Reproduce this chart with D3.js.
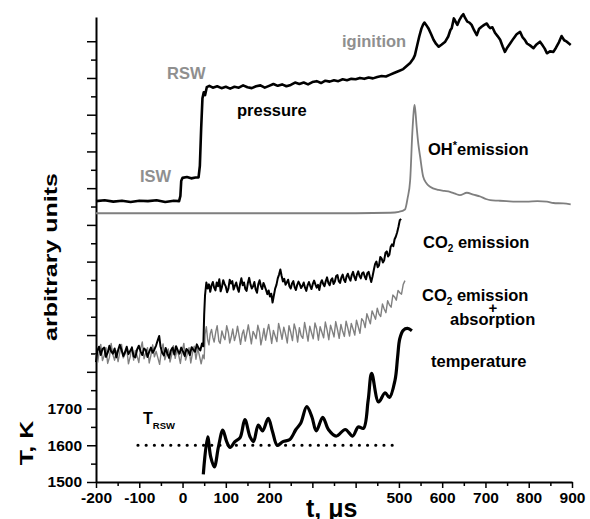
<!DOCTYPE html>
<html>
<head>
<meta charset="utf-8">
<script src="https://cdn.jsdelivr.net/npm/d3@7"></script>
<style>
body { margin: 0; background: #fff; }
svg text { font-family: "Liberation Sans", Arial, sans-serif; font-weight: bold; }
</style>
</head>
<body>
<svg id="chart" width="590" height="519"></svg>
<script>
// time axis ticks (us)
var xMajorTicks = [-200, -100, 0, 100, 200, 300, 400, 500, 600, 700, 800, 900];
var xMinorTicks = [-150, -50, 50, 150, 250, 350, 450, 550, 650, 750, 850];
var xTickLabels = [-200, -100, 0, 100, 200, 500, 600, 700, 800, 900];

// temperature axis ticks (K)
var yMajorTicks = [1500, 1600, 1700, 1800, 1900, 2000, 2100, 2200, 2300, 2400, 2500, 2600, 2700];
var yMinorTicks = [1550, 1650, 1750, 1850, 1950, 2050, 2150, 2250, 2350, 2450, 2550, 2650];
var yTickLabels = [1500, 1600, 1700];

// pressure, arbitrary units
var pressure = [[-200, 60.4], [-180, 60.6], [-160, 60.3], [-140, 60.5], [-120, 60.2], [-100, 60.5], [-80, 60.4],
  [-60, 60.6], [-40, 60.2], [-20, 60.5], [-8, 60.4], [-5, 61.5], [-3, 64.8], [0, 65.4], [10, 65.6], [20, 65.3],
  [30, 65.5], [37, 65.5], [40, 68], [43, 76], [46, 82.5], [49, 83.8], [52, 83.2], [56, 84.9], [62, 85.2], [70, 84.8],
  [80, 85.1], [90, 84.7], [100, 85], [110, 84.6], [120, 85], [130, 84.8], [140, 85.3], [150, 84.9], [160, 84.7],
  [170, 85.1], [180, 85.3], [190, 84.8], [200, 85.2], [210, 85.6], [220, 85.2], [230, 85.5], [240, 85.1], [250, 85.4],
  [260, 85.9], [270, 85.6], [280, 85.9], [290, 85.5], [300, 86], [310, 86.2], [320, 85.8], [330, 86.3], [340, 86.1],
  [350, 86.4], [360, 86.2], [370, 86.6], [380, 86.4], [390, 86.7], [400, 86.6], [410, 86.9], [420, 86.7], [430, 87],
  [440, 86.8], [450, 87.1], [460, 87.3], [470, 87.2], [480, 87.6], [490, 88], [500, 88.4], [510, 88.8], [520, 89.6],
  [526, 90.1], [533, 91], [537, 91.8], [542, 93.8], [547, 95.8], [552, 97.5], [556, 98.4], [559, 98.8], [563, 98.3],
  [568, 97.6], [574, 96.4], [580, 95.1], [586, 94.2], [592, 93.6], [599, 94.1], [607, 94.7], [614, 95.8], [619, 97.2],
  [622, 97.6], [627, 99.7], [631, 99], [635, 98.3], [640, 99.4], [645, 100.2], [649, 100.6], [653, 99.8], [658, 99],
  [663, 98.8], [668, 98.3], [674, 97.1], [680, 96.1], [685, 97.4], [691, 97.9], [697, 98.3], [703, 98.6], [707, 98],
  [711, 97.6], [716, 97.8], [722, 96.6], [728, 95.9], [734, 95.1], [740, 93.6], [745, 92.5], [751, 93.5], [757, 94.3],
  [765, 95.4], [772, 96.3], [780, 96.8], [786, 95.6], [791, 95.1], [796, 94.3], [803, 93.9], [811, 93.3], [818, 94.1],
  [826, 94.7], [832, 93.9], [837, 93.2], [842, 92.2], [849, 92.6], [857, 92.5], [863, 93.4], [870, 94.6], [876, 95.9],
  [882, 95], [888, 94.7], [893, 94.3], [897, 94]];

// OH* emission, arbitrary units
var ohEmission = [[-200, 57.8], [400, 57.8], [480, 57.9], [500, 58.1], [514, 58.6], [520, 61], [526, 64.9],
  [531, 75.1], [534, 79.5], [536, 81.1], [538, 79.8], [541, 76.4], [545, 72.6], [549, 70], [556, 65.7], [564, 64.2],
  [572, 63.5], [591, 62.8], [605, 62.6], [618, 62.4], [630, 62], [641, 61.7], [657, 62.2], [672, 61.8], [688, 61.4],
  [700, 60.9], [711, 60.6], [730, 60.5], [749, 60.4], [770, 60.3], [795, 60.3], [820, 60.4], [842, 60.3], [857, 60],
  [880, 59.9], [897, 59.7]];

// CO2 emission, arbitrary units
var co2Emission = [[-200, 25.8], [-197, 28.2], [-193, 29.1], [-189, 27.3], [-185, 28.6], [-181, 28.9], [-177, 26.9],
  [-173, 27.8], [-169, 29.3], [-165, 28.1], [-161, 27.6], [-157, 28.7], [-153, 26.8], [-149, 28.3], [-145, 29.5],
  [-141, 28.4], [-137, 27.1], [-133, 27.9], [-129, 29.1], [-125, 27.5], [-121, 28.2], [-117, 28.9], [-113, 27],
  [-109, 26.8], [-105, 28.5], [-101, 29.3], [-97, 28.1], [-93, 27.3], [-89, 28.7], [-85, 28.4], [-81, 26.9],
  [-77, 28], [-73, 28.9], [-69, 27.8], [-65, 28.5], [-61, 29.4], [-57, 30.6], [-54, 31.4], [-51, 29.2], [-47, 27.8],
  [-43, 27.2], [-39, 28.8], [-35, 27.6], [-31, 26.7], [-27, 28.3], [-23, 28.9], [-19, 27.4], [-15, 29.2], [-11, 28.3],
  [-7, 27.6], [-3, 28.9], [1, 28.1], [5, 27.1], [9, 28.6], [13, 28.2], [17, 27.3], [21, 29], [25, 28.4], [29, 28],
  [33, 29.6], [37, 28.8], [41, 28.3], [45, 29.8], [48, 29.2],
  [50, 36], [52, 40.2], [55, 42.9], [58, 41.6], [61, 42.5], [64, 40.9], [67, 42.3], [70, 43], [73, 41.8], [76, 41.2],
  [79, 42.9], [82, 42.1], [85, 43.6], [88, 41], [91, 41.9], [94, 43.4], [97, 42.6], [100, 42], [103, 40.8],
  [106, 41.6], [109, 43.5], [112, 42.7], [115, 43.2], [118, 41.4], [121, 42.2], [124, 42.9], [127, 41.7], [130, 40.9],
  [133, 42.6], [136, 43.8], [139, 42.3], [142, 42.9], [145, 41.5], [148, 41.1], [151, 42.8], [154, 43.9], [157, 42.5],
  [160, 41.6], [163, 42.1], [166, 43], [169, 41.4], [172, 40.7], [175, 42.5], [178, 43.4], [181, 42.2], [184, 41.5],
  [187, 42.8], [190, 42.1], [193, 41.3], [196, 40.4], [199, 41.2], [202, 39.9], [205, 40.5], [208, 38.6], [211, 40.1],
  [214, 41.6], [217, 42.4], [220, 43.8], [223, 44.6], [226, 45.7], [229, 44.3], [232, 43.1], [235, 43.7], [238, 42.4],
  [241, 42.9], [244, 43.5], [247, 42.1], [250, 41.6], [253, 42.7], [256, 43.2], [259, 41.9], [262, 41.3], [265, 42.4],
  [268, 43.1], [271, 42.5], [274, 41.7], [277, 42.2], [280, 42.9], [283, 41.8], [286, 41.1], [289, 42.3], [292, 43],
  [295, 42.2], [298, 41.5], [301, 42.6], [304, 43.3], [307, 42.5], [310, 41.8], [313, 42.4], [316, 41.3], [319, 42.7],
  [322, 43.4], [325, 42.6], [328, 42.1], [331, 43.2], [334, 44], [337, 42.8], [340, 42.3], [343, 43.4], [346, 43.8],
  [349, 42.6], [352, 43.1], [355, 44.3], [358, 44.5], [361, 43.2], [364, 42.8], [367, 44], [370, 44.6], [373, 43.5],
  [376, 43], [379, 44.2], [382, 44.8], [385, 43.9], [388, 43.3], [391, 44.5], [394, 45.2], [397, 44.1], [400, 43.4],
  [403, 44.6], [406, 45.3], [409, 44.3], [412, 43.8], [415, 44.9], [418, 45.1], [421, 44.2], [424, 43.6], [427, 44.9],
  [430, 45.2], [433, 44.1], [436, 43], [439, 44.2], [442, 45.6], [445, 46.9], [448, 47.4], [451, 46.2], [454, 46.6],
  [457, 48.4], [460, 48.1], [463, 47.2], [466, 47.7], [469, 49.3], [472, 49.6], [475, 48.5], [478, 48.9], [481, 50.6],
  [484, 51.1], [487, 50.7], [490, 52.2], [493, 52.8], [496, 53.7], [499, 54.9], [502, 56.3], [505, 56.6]];

// CO2 emission + absorption, arbitrary units
var co2Absorption = [[-200, 27.5], [-196, 25.8], [-192, 28.4], [-189, 29.6], [-185, 26.1], [-181, 27.2], [-177, 28.9],
  [-173, 25.5], [-169, 26.8], [-165, 29.8], [-161, 27.4], [-157, 26.2], [-153, 28.2], [-149, 25.9], [-145, 27.9],
  [-141, 29.6], [-137, 26.7], [-133, 27.5], [-129, 28.8], [-125, 25.4], [-121, 26.9], [-117, 29.1], [-113, 26.2],
  [-109, 28.3], [-105, 27.1], [-101, 25.7], [-97, 28.6], [-93, 30.1], [-89, 26.5], [-85, 27.8], [-81, 28.9],
  [-77, 25.6], [-73, 27.3], [-69, 29.5], [-65, 26.9], [-61, 28.1], [-57, 26.7], [-53, 25.3], [-49, 28.2], [-45, 29.7],
  [-41, 26.3], [-37, 27.6], [-33, 28.6], [-29, 25.8], [-25, 27.4], [-21, 29.3], [-17, 26.6], [-13, 28.4], [-9, 27.3],
  [-5, 25.5], [-1, 28.1], [3, 29.8], [7, 26.2], [11, 27.5], [15, 28.9], [19, 25.6], [23, 27.7], [27, 29.2], [31, 26.4],
  [35, 28.7], [39, 27.2], [43, 25.4], [47, 27.3], [50, 26.5], [52, 31.8], [55, 33.4], [58, 30.6], [61, 29.5],
  [64, 31.9], [67, 32.8], [70, 31.1], [73, 30.1], [77, 32.4], [80, 33.6], [84, 30.3], [87, 29.8], [91, 32.5],
  [95, 31.2], [98, 30.6], [102, 33.6], [106, 32.1], [109, 29.9], [113, 31.4], [116, 32.9], [120, 30.4], [124, 31.8],
  [127, 33.5], [131, 31.3], [134, 29.6], [138, 31.9], [141, 32.7], [145, 30.3], [149, 32.3], [152, 33.8], [156, 31.5],
  [159, 29.7], [163, 32.4], [167, 31.6], [170, 30.8], [174, 33.7], [178, 32.2], [181, 29.5], [185, 31.3], [188, 33],
  [192, 30.5], [196, 32.6], [199, 33.9], [203, 31.7], [206, 29.8], [210, 32.6], [214, 31.4], [218, 30.2], [222, 34.1],
  [226, 32.5], [230, 30.7], [234, 33.3], [238, 31.8], [242, 29.9], [246, 33.6], [250, 32.2], [254, 30.4], [258, 34],
  [262, 32.6], [266, 30.1], [270, 33.2], [274, 31.5], [278, 30.9], [282, 34.3], [286, 32.4], [290, 30.3], [294, 33.5],
  [298, 32.1], [302, 30.8], [306, 34.2], [310, 32.9], [314, 30.5], [318, 33.4], [322, 32.2], [326, 31], [330, 34.4],
  [334, 32.7], [338, 30.6], [342, 33.7], [346, 32.5], [350, 31.2], [354, 34.5], [358, 32.8], [362, 30.9], [366, 33.9],
  [370, 32.4], [374, 31.3], [378, 34.6], [382, 33.1], [386, 31.4], [390, 34.1], [394, 32.9], [398, 31.6], [402, 34.8],
  [406, 33.4], [410, 32], [414, 35.1], [418, 34.6], [422, 33.2], [426, 36.2], [430, 35.1], [434, 34], [438, 36.8],
  [442, 35.9], [446, 35], [450, 37.4], [454, 36.1], [458, 35.6], [462, 38.3], [466, 37.2], [470, 36.4], [474, 39],
  [478, 38.1], [482, 37.6], [486, 40.2], [490, 39.8], [494, 39.1], [498, 41.2], [502, 40.7], [506, 40.4], [510, 42.5],
  [514, 43.3]];

// temperature, K
var temperature = [[48, 1521], [58, 1623], [65, 1569], [73.5, 1541], [83, 1596], [93, 1641], [102, 1610],
  [110, 1594], [121, 1610], [133, 1621], [144, 1670], [156, 1623], [164, 1610], [175, 1655], [185, 1639],
  [198, 1673], [208, 1637], [219, 1600], [232, 1610], [248, 1616], [262, 1643], [273, 1660], [287, 1705],
  [299, 1677], [309, 1639], [324, 1676], [337, 1643], [355, 1625], [376, 1643], [393, 1625], [406, 1650],
  [418, 1646], [429, 1723], [437, 1796], [453, 1718], [468, 1743], [478, 1730], [491, 1777], [497, 1840],
  [502, 1890], [510, 1913], [520, 1918], [530, 1912]];

// temperature behind the reflected shock
var tRsw = [[-103, 1600], [489, 1600]];

var svg = d3.select("#chart");

var x = d3.scaleLinear().domain([-200, 900]).range([96, 572]);
var yT = d3.scaleLinear().domain([1500, 2766]).range([482, 17]);
var yA = d3.scaleLinear().domain([0, 100]).range([482, 17]);

// axes
svg.append("g").attr("transform", "translate(0,482)")
  .call(d3.axisBottom(x).tickValues(xMajorTicks).tickSize(6).tickSizeOuter(0).tickPadding(4)
    .tickFormat(function(d) { return xTickLabels.indexOf(d) >= 0 ? d : ""; }));
svg.append("g").attr("transform", "translate(0,482)")
  .call(d3.axisBottom(x).tickValues(xMinorTicks).tickSize(4).tickFormat(""))
  .select(".domain").remove();

svg.append("g").attr("transform", "translate(96,0)")
  .call(d3.axisLeft(yT).tickValues(yMajorTicks).tickSize(9).tickSizeOuter(0).tickPadding(5)
    .tickFormat(function(d) { return yTickLabels.indexOf(d) >= 0 ? d : ""; }));
svg.append("g").attr("transform", "translate(96,0)")
  .call(d3.axisLeft(yT).tickValues(yMinorTicks).tickSize(5).tickFormat(""))
  .select(".domain").remove();

svg.selectAll(".domain").attr("stroke", "#000").attr("stroke-width", 2);
svg.selectAll(".tick line").attr("stroke", "#000").attr("stroke-width", 1.5);
svg.selectAll(".tick text").attr("fill", "#000").style("font-size", "15.5px");

// lines
var lineA = d3.line().x(function(d) { return x(d[0]); }).y(function(d) { return yA(d[1]); });
var lineT = d3.line().x(function(d) { return x(d[0]); }).y(function(d) { return yT(d[1]); });

svg.append("path").datum(co2Absorption).attr("d", lineA)
  .attr("fill", "none").attr("stroke", "#808080").attr("stroke-width", 1.4).attr("stroke-linejoin", "round");
svg.append("path").datum(co2Emission).attr("d", lineA)
  .attr("fill", "none").attr("stroke", "#000").attr("stroke-width", 2).attr("stroke-linejoin", "round");
svg.append("path").datum(ohEmission).attr("d", lineA.curve(d3.curveMonotoneX))
  .attr("fill", "none").attr("stroke", "#7f7f7f").attr("stroke-width", 1.8);
lineA.curve(d3.curveLinear);
svg.append("path").datum(pressure).attr("d", lineA)
  .attr("fill", "none").attr("stroke", "#000").attr("stroke-width", 2.6).attr("stroke-linejoin", "round");

svg.append("path").datum(tRsw).attr("d", lineT)
  .attr("fill", "none").attr("stroke", "#000").attr("stroke-width", 3.2)
  .attr("stroke-linecap", "round").attr("stroke-dasharray", "0,8.2");
svg.append("path").datum(temperature).attr("d", lineT.curve(d3.curveCatmullRom))
  .attr("fill", "none").attr("stroke", "#000").attr("stroke-width", 3.2).attr("stroke-linejoin", "round");

// annotations
function label(px, py, txt, col, size) {
  return svg.append("text").attr("x", px).attr("y", py).attr("fill", col || "#000")
    .style("font-size", (size || 16.5) + "px").text(txt);
}
label(167, 79, "RSW", "#8f8f8f");
label(140, 181.5, "ISW", "#8f8f8f");
label(342, 47, "iginition", "#8f8f8f");
label(237, 116, "pressure");
var oh = label(428, 155, "OH");
oh.append("tspan").attr("dy", -6).style("font-size", "11px").text("*");
oh.append("tspan").attr("dy", 6).text("emission");
var c1 = label(423, 248, "CO");
c1.append("tspan").attr("dy", 4).style("font-size", "10px").text("2");
c1.append("tspan").attr("dy", -4).text(" emission");
var c2 = label(422, 301, "CO");
c2.append("tspan").attr("dy", 4).style("font-size", "10px").text("2");
c2.append("tspan").attr("dy", -4).text(" emission");
label(493, 313, "+", "#000", 15).attr("text-anchor", "middle");
label(450, 324.5, "absorption");
label(431, 366.5, "temperature");
var tr = label(143, 424, "T", "#000", 16);
tr.append("tspan").attr("dy", 5).style("font-size", "9.5px").text("RSW");

// axis titles
svg.append("text").attr("x", 306).attr("y", 517).style("font-size", "25px").attr("fill", "#000").text("t, \u03bcs");
svg.append("text").attr("transform", "translate(57,257) scale(0.72,1) rotate(-90)")
  .attr("text-anchor", "middle").style("font-size", "25px").attr("fill", "#000").text("arbitrary units");
svg.append("text").attr("transform", "translate(33,443) scale(0.72,1) rotate(-90)")
  .attr("text-anchor", "middle").style("font-size", "25px").attr("fill", "#000").text("T, K");
</script>
</body>
</html>
